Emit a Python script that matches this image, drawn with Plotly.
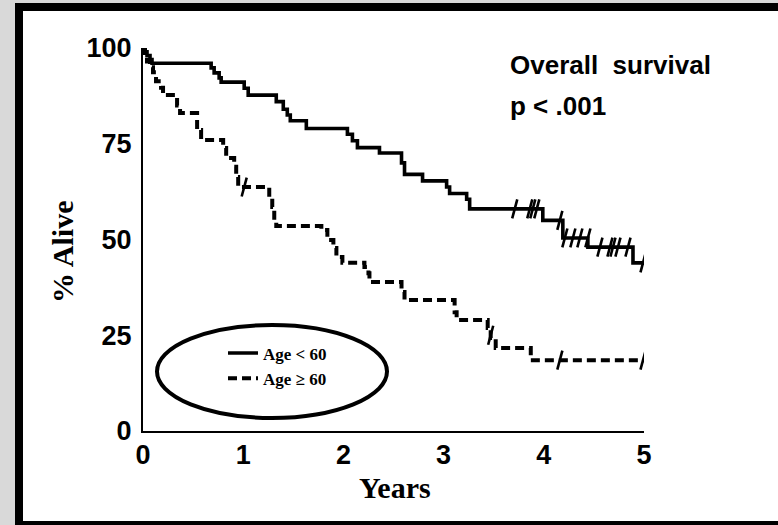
import plotly.graph_objects as go

# ---------------- data ----------------
# Age < 60 : step times (years) and survival (%) after each step
young_t = [0, 0.02, 0.04, 0.07, 0.09, 0.68, 0.71, 0.76, 0.78, 1.01, 1.05, 1.33, 1.40, 1.44, 1.47,
           1.63, 2.04, 2.09, 2.14, 2.36, 2.58, 2.61, 2.79, 3.03, 3.06, 3.23, 3.26, 3.99, 4.19,
           4.44, 4.89, 5.0]
young_s = [100, 99, 98, 97, 96, 94.8, 93.5, 92.2, 91.1, 89.5, 87.7, 86, 84, 82.5, 81,
           79, 77.5, 75.8, 74, 72.6, 70, 67, 65.3, 63.7, 62, 60.5, 58, 55, 50.4,
           48, 43.9, 43.9]
young_cens_t = [3.71, 3.86, 3.89, 3.93, 4.16, 4.21, 4.29, 4.36, 4.44, 4.56, 4.66, 4.69, 4.74, 4.84, 4.99]
young_cens_s = [58, 58, 58, 58, 55, 50.4, 50.4, 50.4, 50.4, 48, 48, 48, 48, 48, 43.9]

# Age >= 60
old_t = [0, 0.02, 0.04, 0.07, 0.10, 0.13, 0.18, 0.20, 0.34, 0.37, 0.54, 0.58, 0.80, 0.83, 0.91,
         0.93, 0.95, 1.26, 1.29, 1.31, 1.33, 1.78, 1.84, 1.90, 1.93, 1.99, 2.21, 2.25, 2.26,
         2.58, 2.61, 3.11, 3.13, 3.44, 3.47, 3.52, 3.87, 5.0]
old_s = [100, 98, 96.5, 95, 93.7, 91.3, 89.6, 87.7, 85, 83, 78.6, 76, 73.9, 71.3, 69,
         66.3, 63.7, 61, 58.5, 55, 53.5, 52.5, 49.9, 47.8, 45.4, 43.9, 42.8, 41.2, 38.9,
         36.3, 34.2, 31, 29, 26.9, 24.3, 21.7, 18.5, 18.5]
old_cens_t = [1.01, 3.47, 4.16, 4.99]
old_cens_s = [63.7, 25, 18.5, 18.5]

x_ticks = [0, 1, 2, 3, 4, 5]
y_ticks = [0, 25, 50, 75, 100]
series_names = ["Age < 60", "Age \u2265 60"]

# ---------------- geometry helpers ----------------
W, H = 778, 525
L, R, T, B = 143, 644, 48, 431   # plot area in pixels


def px(p):
    return (p - L) / (R - L)


def py(p):
    return (B - p) / (B - T)


SANS = "Liberation Sans, Arial, sans-serif"
SERIF = "Liberation Serif, Times New Roman, serif"

fig = go.Figure()

fig.add_trace(go.Scatter(x=young_t, y=young_s, mode="lines", line_shape="hv",
                         line=dict(color="black", width=3.6), name=series_names[0]))
fig.add_trace(go.Scatter(x=old_t, y=old_s, mode="lines", line_shape="hv",
                         line=dict(color="black", width=4, dash="9px,5px"), name=series_names[1]))
fig.add_trace(go.Scatter(x=young_cens_t, y=young_cens_s, mode="markers", showlegend=False,
                         marker=dict(symbol="line-ns", size=14, angle=15,
                                     line=dict(color="black", width=2.6))))
fig.add_trace(go.Scatter(x=old_cens_t, y=old_cens_s, mode="markers", showlegend=False,
                         marker=dict(symbol="line-ns", size=14, angle=15,
                                     line=dict(color="black", width=2.6))))

shapes = [
    # grey outer strips
    dict(type="rect", xref="paper", yref="paper", x0=px(0), x1=px(15), y0=py(0), y1=py(H),
         fillcolor="#d9d9d9", line=dict(width=0)),
    dict(type="rect", xref="paper", yref="paper", x0=px(0), x1=px(W), y0=py(0), y1=py(3),
         fillcolor="#d9d9d9", line=dict(width=0)),
    # black frame
    dict(type="rect", xref="paper", yref="paper", x0=px(15), x1=px(23), y0=py(3), y1=py(H),
         fillcolor="black", line=dict(width=0)),
    dict(type="rect", xref="paper", yref="paper", x0=px(15), x1=px(W), y0=py(3), y1=py(11),
         fillcolor="black", line=dict(width=0)),
    dict(type="rect", xref="paper", yref="paper", x0=px(15), x1=px(W), y0=py(521), y1=py(H),
         fillcolor="black", line=dict(width=0)),
    # ellipse round the legend
    dict(type="circle", xref="paper", yref="paper", x0=px(157), x1=px(387), y0=py(418), y1=py(325),
         line=dict(color="black", width=4)),
]

annotations = [
    dict(text="Overall\u00a0 survival", xref="paper", yref="paper", x=px(508), y=py(65),
         xanchor="left", yanchor="middle", showarrow=False,
         font=dict(family=SANS, size=26, color="black", weight="bold")),
    dict(text="p < .001", xref="paper", yref="paper", x=px(508), y=py(106),
         xanchor="left", yanchor="middle", showarrow=False,
         font=dict(family=SANS, size=26, color="black", weight="bold")),
    dict(text="% Alive", xref="paper", yref="paper", x=px(62), y=py(252), textangle=-90,
         xanchor="center", yanchor="middle", showarrow=False,
         font=dict(family=SERIF, size=30, color="black", weight="bold")),
    dict(text="Years", xref="paper", yref="paper", x=px(395), y=py(487),
         xanchor="center", yanchor="middle", showarrow=False,
         font=dict(family=SERIF, size=30, color="black", weight="bold")),
]

fig.update_layout(
    width=W, height=H,
    margin=dict(l=L, r=W - R, t=T, b=H - B, pad=0),
    paper_bgcolor="white", plot_bgcolor="white",
    shapes=shapes, annotations=annotations,
    showlegend=True,
    legend=dict(x=px(223), y=py(366), xanchor="left", yanchor="middle",
                bgcolor="rgba(0,0,0,0)", borderwidth=0,
                font=dict(family=SERIF, size=17, color="black", weight="bold"),
                tracegroupgap=0),
    xaxis=dict(range=[0, 5], tickvals=x_ticks, ticktext=[str(v) for v in x_ticks],
               showgrid=False, zeroline=False, showline=True, linecolor="black", linewidth=2,
               ticks="", ticklabelstandoff=-1,
               tickfont=dict(family=SANS, size=27, color="black", weight="bold")),
    yaxis=dict(range=[0, 100], tickvals=y_ticks, ticktext=[str(v) for v in y_ticks],
               showgrid=False, zeroline=False, showline=True, linecolor="black", linewidth=2,
               ticks="", ticklabelstandoff=4,
               tickfont=dict(family=SANS, size=27, color="black", weight="bold")),
)

fig.write_html("out.html")
